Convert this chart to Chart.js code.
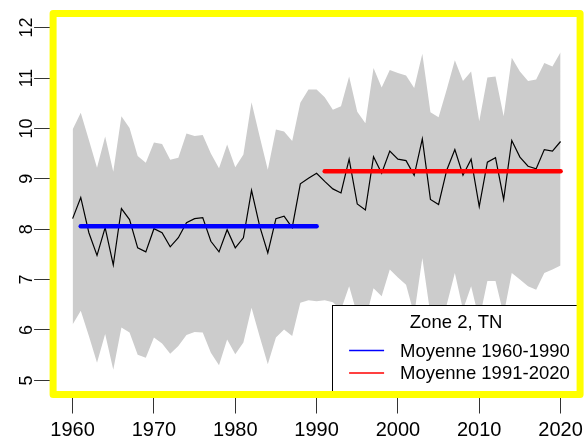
<!DOCTYPE html>
<html>
<head>
<meta charset="utf-8">
<script src="https://cdn.jsdelivr.net/npm/chart.js@4.4.0/dist/chart.umd.min.js"></script>
<style>
html,body{margin:0;padding:0;background:#ffffff;}
canvas{display:block;}
</style>
</head>
<body>
<canvas id="c" width="588" height="445"></canvas>
<script>
// ---------- data ----------
const years = [1960,1961,1962,1963,1964,1965,1966,1967,1968,1969,
               1970,1971,1972,1973,1974,1975,1976,1977,1978,1979,
               1980,1981,1982,1983,1984,1985,1986,1987,1988,1989,
               1990,1991,1992,1993,1994,1995,1996,1997,1998,1999,
               2000,2001,2002,2003,2004,2005,2006,2007,2008,2009,
               2010,2011,2012,2013,2014,2015,2016,2017,2018,2019,2020];

// zone mean of TN (black line)
const meanTN = [8.21,8.63,7.93,7.48,8.03,7.29,8.41,8.19,7.63,7.55,
                8.01,7.93,7.65,7.83,8.13,8.21,8.23,7.76,7.55,7.99,
                7.63,7.83,8.77,8.06,7.53,8.21,8.26,8.03,8.90,9.01,
                9.11,8.95,8.80,8.72,9.39,8.50,8.38,9.44,9.11,9.55,
                9.39,9.36,9.07,9.79,8.59,8.49,9.17,9.58,9.07,9.39,
                8.45,9.33,9.42,8.59,9.76,9.43,9.25,9.20,9.58,9.55,9.74];

// upper edge of the grey envelope
const maxTN = [9.98,10.31,9.77,9.22,9.84,9.14,10.24,10.01,9.45,9.32,
               9.72,9.69,9.38,9.42,9.90,9.85,9.87,9.50,9.21,9.68,
               9.23,9.48,10.52,9.84,9.18,9.98,9.94,9.75,10.51,10.77,
               10.77,10.62,10.37,10.44,11.03,10.33,10.10,11.20,10.81,11.16,
               11.10,11.05,10.80,11.48,10.32,10.22,10.77,11.35,10.94,11.13,
               10.14,11.01,11.03,10.24,11.40,11.13,10.94,10.97,11.30,11.23,11.51];

// lower edge of the grey envelope
const minTN = [6.11,6.38,5.88,5.35,5.92,5.21,6.05,5.95,5.51,5.45,
               5.85,5.73,5.53,5.68,5.90,5.96,5.95,5.55,5.30,5.81,
               5.52,5.75,6.44,5.87,5.32,5.85,6.01,5.88,6.54,6.59,
               6.57,6.59,6.55,6.40,6.87,6.30,6.20,6.83,6.67,7.20,
               7.04,6.90,6.30,7.43,6.30,6.20,6.50,7.13,6.40,6.87,
               6.20,6.97,6.97,6.30,7.13,7.00,6.87,6.80,7.13,7.20,7.28];

// period means (horizontal segments)
const periodLabels = ['Moyenne 1960-1990', 'Moyenne 1991-2020'];
const periodStart  = [1961, 1991];
const periodEnd    = [1990, 2020];
const periodMean   = [8.06, 9.15];

const legendTitle = 'Zone 2, TN';
const xTicks = [1960, 1970, 1980, 1990, 2000, 2010, 2020];
const yTicks = [5, 6, 7, 8, 9, 10, 11, 12];

// ---------- chart ----------
const FONT = '"Liberation Sans", Arial, sans-serif';
Chart.defaults.font.family = FONT;
Chart.defaults.color = '#000000';

const pts = arr => years.map((yr, i) => ({x: yr, y: arr[i]}));
const periodColors = ['#0000FF', '#FF0000'];

const datasets = [
  {label: 'max', data: pts(maxTN), fill: '+1', backgroundColor: '#CCCCCC',
   borderColor: 'rgba(0,0,0,0)', borderWidth: 0, pointRadius: 0, order: 10},
  {label: 'min', data: pts(minTN), fill: false,
   borderColor: 'rgba(0,0,0,0)', borderWidth: 0, pointRadius: 0, order: 11},
  {label: 'TN', data: pts(meanTN), fill: false,
   borderColor: '#000000', borderWidth: 1.2, pointRadius: 0, order: 2}
];
periodLabels.forEach((lab, i) => {
  datasets.push({
    label: lab, inLegend: true,
    data: [{x: periodStart[i], y: periodMean[i]}, {x: periodEnd[i], y: periodMean[i]}],
    borderColor: periodColors[i], borderWidth: 4.5, borderCapStyle: 'round',
    pointRadius: 0, fill: false, order: 1
  });
});

const framePlugin = {
  id: 'rFrame',
  afterDatasetsDraw(chart) {
    const {ctx, chartArea: a} = chart;
    const w = 248, h = 89.5;
    const x0 = a.right - w, y0 = a.bottom - h;
    ctx.save();
    ctx.fillStyle = '#FFFFFF';
    ctx.fillRect(x0, y0, w, h);
    ctx.strokeStyle = '#000000';
    ctx.lineWidth = 1;
    ctx.strokeRect(Math.round(x0) + 0.5, Math.round(y0) + 0.5, w, h);
    ctx.font = '18.5px ' + FONT;
    ctx.fillStyle = '#000000';
    ctx.textBaseline = 'middle';
    ctx.textAlign = 'center';
    ctx.fillText(legendTitle, x0 + w / 2, y0 + 18);
    ctx.textAlign = 'left';
    chart.data.datasets.filter(d => d.inLegend).forEach((d, i) => {
      const y = y0 + 45.5 + i * 22.5;
      ctx.strokeStyle = d.borderColor;
      ctx.lineWidth = 1.6;
      ctx.beginPath();
      ctx.moveTo(x0 + 17, y);
      ctx.lineTo(x0 + 52, y);
      ctx.stroke();
      ctx.fillText(d.label, x0 + 68, y + 1);
    });
    ctx.restore();
  },
  afterDraw(chart) {
    const {ctx, chartArea: a} = chart;
    ctx.save();
    ctx.strokeStyle = '#FFFF00';
    ctx.lineWidth = 7;
    ctx.lineJoin = 'round';
    ctx.strokeRect(a.left, a.top, a.right - a.left, a.bottom - a.top);
    ctx.restore();
  }
};

new Chart(document.getElementById('c'), {
  type: 'line',
  data: {datasets},
  options: {
    responsive: false,
    animation: false,
    events: [],
    layout: {padding: {top: 13.5, right: 4.9, left: 0, bottom: 0}},
    elements: {line: {tension: 0}},
    plugins: {legend: {display: false}, tooltip: {enabled: false}},
    scales: {
      x: {
        type: 'linear', min: 1957.6, max: 2022.4,
        afterBuildTicks: s => { s.ticks = xTicks.map(v => ({value: v})); },
        afterFit: s => { s.height = 50.5; },
        grid: {drawOnChartArea: false, tickLength: 19, color: '#333333', lineWidth: 1},
        border: {display: false},
        ticks: {font: {size: 20}, padding: 5, color: '#000000', maxRotation: 0,
                autoSkip: false, callback: v => String(v)}
      },
      y: {
        type: 'linear', min: 4.72, max: 12.28,
        afterBuildTicks: s => { s.ticks = yTicks.map(v => ({value: v})); },
        afterFit: s => { s.width = 53.1; },
        grid: {drawOnChartArea: false, tickLength: 19, color: '#333333', lineWidth: 1},
        border: {display: false},
        ticks: {font: {size: 18}, padding: -3, color: '#000000',
                minRotation: 90, maxRotation: 90, crossAlign: 'center',
                autoSkip: false, callback: v => String(v)}
      }
    }
  },
  plugins: [framePlugin]
});
</script>
</body>
</html>
